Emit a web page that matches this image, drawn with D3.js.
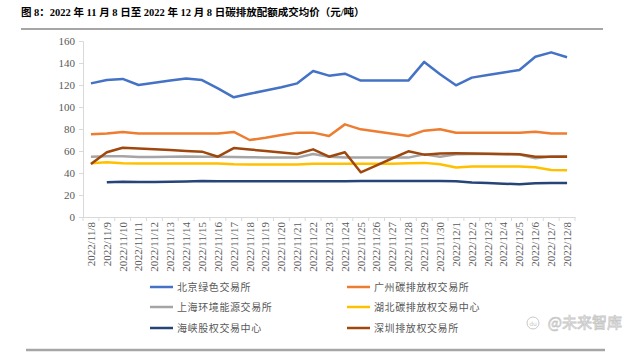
<!DOCTYPE html>
<html><head><meta charset="utf-8">
<script src="https://cdn.jsdelivr.net/npm/d3@7"></script>
<style>
body{margin:0;background:#fff;}
svg{display:block;}
</style></head>
<body><svg id="c" width="640" height="353"></svg>
<script>
const dates = ["2022/11/8","2022/11/9","2022/11/10","2022/11/11","2022/11/12","2022/11/13","2022/11/14","2022/11/15","2022/11/16","2022/11/17","2022/11/18","2022/11/19","2022/11/20","2022/11/21","2022/11/22","2022/11/23","2022/11/24","2022/11/25","2022/11/26","2022/11/27","2022/11/28","2022/11/29","2022/11/30","2022/12/1","2022/12/2","2022/12/3","2022/12/4","2022/12/5","2022/12/6","2022/12/7","2022/12/8"];
const yTicks = [0,20,40,60,80,100,120,140,160];
const beijing = [121.5,124.5,125.5,120,122,124,126,124.5,117,108.8,112,115,118,121.5,132.7,128.5,130.3,124,124,124,124,141,129.7,119.7,126.7,129,131.4,133.6,145.7,149.7,145.2];
const guangzhou = [75.2,76,77.3,76,76,76,76,76,76,77.3,70,72,74.5,76.7,76.7,73.6,84.2,79.7,77.7,75.7,73.6,78.5,79.7,76.6,76.6,76.6,76.6,76.6,77.5,76,76];
const shanghai = [54.8,55.3,55.3,54.5,54.5,54.8,55,54.8,54.8,54.5,54.3,54.2,54,54,57.3,54.8,54.2,54,54,54,54,57,54.8,57,57.2,57.2,57,56.8,53.3,55,55.3];
const hubei = [48.8,49.7,48.8,48.6,48.6,48.6,48.6,48.6,48.6,47.9,47.8,47.8,47.8,47.8,48.3,48.3,48.3,48.5,48.5,48.5,48.8,49.2,47.9,45,46,46,45.9,45.8,45.2,42.7,42.4];
const haixia = [null,31.5,32.1,31.8,31.8,32,32.3,32.7,32.5,32.5,32.5,32.5,32.5,32.5,32.5,32.5,32.6,32.7,32.7,32.7,32.7,32.7,32.7,32.5,31.3,30.8,30.3,29.8,30.7,30.9,31];
const shenzhen = [48.2,58.8,63,62.3,61.6,60.8,60.1,59.4,54.8,62.7,61.4,60,58.6,57.3,61.5,54.8,58.8,40.6,47,53.4,59.7,56.7,57.8,57.9,57.8,57.6,57.3,57,54.8,54.8,54.8];
const seriesNames = ["北京绿色交易所","广州碳排放权交易所","上海环境能源交易所","湖北碳排放权交易中心","海峡股权交易中心","深圳排放权交易所"];
const seriesColors = ["#4472C4","#ED7D31","#A5A5A5","#FFC000","#264478","#9E480E"];
const titleText = "图 8：2022 年 11 月 8 日至 2022 年 12 月 8 日碳排放配额成交均价（元/吨）";

const series = [
  {name:seriesNames[0], color:seriesColors[0], values:beijing},
  {name:seriesNames[1], color:seriesColors[1], values:guangzhou},
  {name:seriesNames[2], color:seriesColors[2], values:shanghai},
  {name:seriesNames[3], color:seriesColors[3], values:hubei},
  {name:seriesNames[4], color:seriesColors[4], values:haixia},
  {name:seriesNames[5], color:seriesColors[5], values:shenzhen}
];
const drawOrder = [2,3,4,5,1,0];

const svg = d3.select("#c");
const serif = "'Liberation Serif','Times New Roman',serif";
const cjk = "'Noto Sans CJK SC','Liberation Serif',sans-serif";

// title
svg.append("text").attr("x",21).attr("y",16)
  .style("font-family", "'Liberation Serif','Noto Sans CJK SC',serif")
  .style("font-weight","bold").style("font-size","10.5px").attr("fill","#000")
  .text(titleText);
svg.append("line").attr("x1",21).attr("x2",603).attr("y1",29).attr("y2",29)
  .attr("stroke","#a6a6a6").attr("stroke-width",2);
svg.append("line").attr("x1",26).attr("x2",605).attr("y1",350).attr("y2",350)
  .attr("stroke","#a6a6a6").attr("stroke-width",2.5);

const x = d3.scaleBand().domain(dates).range([83,575]).padding(0);
const y = d3.scaleLinear().domain([0,160]).range([217,41]);

// y axis
const ya = svg.append("g").attr("transform","translate(83,0)")
  .call(d3.axisLeft(y).tickValues(yTicks).tickSize(4).tickPadding(4));
ya.attr("font-family",null);
ya.select(".domain").attr("stroke","#d9d9d9");
ya.selectAll(".tick line").attr("stroke","#d9d9d9");
ya.selectAll("text").style("font-family",serif).style("font-size","11px").attr("fill","#595959");

// x axis
const xa = svg.append("g").attr("transform","translate(0,217)")
  .call(d3.axisBottom(x).tickSize(0).tickPadding(0));
xa.attr("font-family",null);
xa.select(".domain").attr("stroke","#d9d9d9");
xa.selectAll(".tick text")
  .attr("transform","rotate(-90)")
  .attr("x",-5).attr("y",0).attr("dy","0.35em")
  .style("text-anchor","end")
  .style("font-family",serif).style("font-size","11px").attr("fill","#595959");
const boundaries = dates.map(d=>x(d)).concat([x.range()[1]]);
svg.append("g").selectAll("line").data(boundaries).join("line")
  .attr("x1",d=>d).attr("x2",d=>d).attr("y1",217).attr("y2",221)
  .attr("stroke","#d9d9d9");

// lines
const line = d3.line()
  .defined(d=>d.v!=null)
  .x(d=>x(d.d)+x.bandwidth()/2)
  .y(d=>y(d.v));
drawOrder.forEach(i=>{
  const s = series[i];
  svg.append("path")
    .datum(dates.map((d,k)=>({d:d,v:s.values[k]})))
    .attr("d",line).attr("fill","none")
    .attr("stroke",s.color).attr("stroke-width",2.5)
    .attr("stroke-linejoin","round");
});

// legend
const legPos = [[150,287],[347,287],[150,307],[347,307],[150,328],[347,328]];
series.forEach((s,i)=>{
  const [lx,ly] = legPos[i];
  svg.append("line").attr("x1",lx).attr("x2",lx+23).attr("y1",ly).attr("y2",ly)
    .attr("stroke",s.color).attr("stroke-width",2.5);
  svg.append("text").attr("x",lx+27).attr("y",ly).attr("dy","0.35em")
    .style("font-family",cjk).style("font-size","10px").style("letter-spacing","0.6px")
    .attr("fill","#595959").text(s.name);
});

// watermark
svg.append("text").attr("x",622).attr("y",328).style("text-anchor","end")
  .style("font-family",cjk).style("font-size","15px")
  .attr("fill","none").attr("stroke","#c8c8c8").attr("stroke-width",0.8)
  .text("@未来智库");
svg.append("circle").attr("cx",533).attr("cy",323).attr("r",6)
  .attr("fill","none").attr("stroke","#c8c8c8");
svg.append("text").attr("x",533).attr("y",326).style("text-anchor","middle")
  .style("font-family","DejaVu Sans").style("font-size","6px").attr("fill","#c8c8c8").text("du");
</script></body></html>
